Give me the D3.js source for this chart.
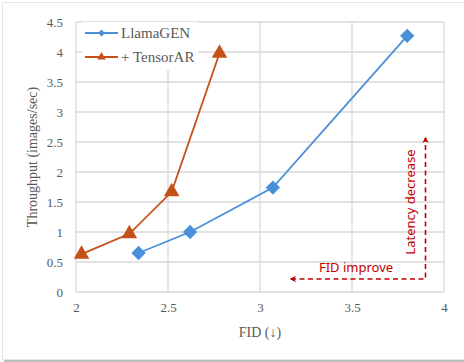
<!DOCTYPE html>
<html>
<head>
<meta charset="utf-8">
<script src="https://cdn.jsdelivr.net/npm/d3@7"></script>
<style>
  body { margin: 0; background: #fff; }
  svg text { font-family: "Liberation Serif", "Times New Roman", serif; fill: #595959; }
  svg text.note { font-family: "Comic Sans MS", "Noto Sans", sans-serif; fill: #c00000; }
</style>
</head>
<body>
<div id="chart"></div>
<script>
// data
const llamaFid = [2.34, 2.62, 3.07, 3.80];
const llamaThroughput = [0.65, 1.0, 1.74, 4.27];
const tensorFid = [2.03, 2.29, 2.52, 2.78];
const tensorThroughput = [0.63, 0.97, 1.67, 3.98];
const xTicks = [2, 2.5, 3, 3.5, 4];
const yTicks = [0, 0.5, 1, 1.5, 2, 2.5, 3, 3.5, 4, 4.5];
const seriesNames = ["LlamaGEN", "+ TensorAR"];

const W = 464, H = 362;
const margin = {top: 22, right: 20, bottom: 70, left: 76};
const width = W - margin.left - margin.right;
const height = H - margin.top - margin.bottom;

const svg = d3.select("#chart").append("svg")
  .attr("width", W)
  .attr("height", H);

// chart frame with soft shadow
svg.append("rect")
  .attr("x", 4).attr("y", 4).attr("width", W - 4).attr("height", H - 4)
  .attr("fill", "#bdbdbd");
svg.append("rect")
  .attr("x", 2.5).attr("y", 2.5).attr("width", W).attr("height", H - 5)
  .attr("fill", "#fff").attr("stroke", "#e6e6e6");

const g = svg.append("g")
  .attr("transform", "translate(" + margin.left + "," + margin.top + ")");

const x = d3.scaleLinear().domain([2, 4]).range([0, width]);
const y = d3.scaleLinear().domain([0, 4.5]).range([height, 0]);

// gridlines
g.append("g")
  .selectAll("line.h")
  .data(yTicks)
  .enter().append("line")
  .attr("x1", 0).attr("x2", width)
  .attr("y1", d => y(d)).attr("y2", d => y(d))
  .attr("stroke", "#d9d9d9").attr("stroke-width", 1.3);
g.append("g")
  .selectAll("line.v")
  .data(xTicks)
  .enter().append("line")
  .attr("y1", 0).attr("y2", height)
  .attr("x1", d => x(d)).attr("x2", d => x(d))
  .attr("stroke", "#d9d9d9").attr("stroke-width", 1.3);

// axes (labels only)
const yAxis = g.append("g")
  .call(d3.axisLeft(y).tickValues(yTicks).tickSize(0).tickPadding(13).tickFormat(d3.format("")))
  .attr("font-family", "Liberation Serif").attr("font-size", 13);
yAxis.select(".domain").remove();
yAxis.selectAll("text").attr("fill", "#595959");

const xAxis = g.append("g")
  .attr("transform", "translate(0," + height + ")")
  .call(d3.axisBottom(x).tickValues(xTicks).tickSize(0).tickPadding(11).tickFormat(d3.format("")))
  .attr("font-family", "Liberation Serif").attr("font-size", 13);
xAxis.select(".domain").remove();
xAxis.selectAll("text").attr("fill", "#595959");

// axis titles
svg.append("text")
  .attr("transform", "translate(37," + (margin.top + height / 2) + ") rotate(-90)")
  .attr("text-anchor", "middle")
  .attr("font-size", 14)
  .text("Throughput (images/sec)");
svg.append("text")
  .attr("x", margin.left + x(3)).attr("y", 337)
  .attr("text-anchor", "middle")
  .attr("font-size", 14)
  .text("FID (↓)");

const blue = "#4a90d9", orange = "#c5511a";
const line = d3.line().x(d => x(d[0])).y(d => y(d[1]));

const llama = llamaFid.map((d, i) => [d, llamaThroughput[i]]);
const tensor = tensorFid.map((d, i) => [d, tensorThroughput[i]]);

g.append("path").datum(llama).attr("d", line)
  .attr("fill", "none").attr("stroke", blue).attr("stroke-width", 1.8);
g.append("path").datum(tensor).attr("d", line)
  .attr("fill", "none").attr("stroke", orange).attr("stroke-width", 1.8);

const diamond = d3.symbol().type(d3.symbolDiamond2).size(130);
const tri = d3.symbol().type(d3.symbolTriangle).size(105);

g.selectAll(".llama").data(llama).enter().append("path")
  .attr("class", "llama")
  .attr("d", diamond)
  .attr("transform", d => "translate(" + x(d[0]) + "," + y(d[1]) + ")")
  .attr("fill", blue);
g.selectAll(".tensor").data(tensor).enter().append("path")
  .attr("class", "tensor")
  .attr("d", tri)
  .attr("transform", d => "translate(" + x(d[0]) + "," + y(d[1]) + ")")
  .attr("fill", orange);

// legend
const legend = svg.append("g").attr("transform", "translate(82,22)");
legend.append("rect").attr("width", 116).attr("height", 48).attr("fill", "#fff");
seriesNames.forEach((name, i) => {
  const ly = 11 + i * 24;
  const c = i === 0 ? blue : orange;
  legend.append("line").attr("x1", 3).attr("x2", 36).attr("y1", ly).attr("y2", ly)
    .attr("stroke", c).attr("stroke-width", 1.8);
  legend.append("path")
    .attr("d", i === 0 ? d3.symbol().type(d3.symbolDiamond2).size(30) : d3.symbol().type(d3.symbolTriangle).size(32))
    .attr("transform", "translate(19.5," + ly + ")")
    .attr("fill", c);
  legend.append("text").attr("x", 39).attr("y", ly + 5)
    .attr("font-size", 15).text(name);
});

// annotation arrows
const red = "#c00000";
const ann = svg.append("g");
ann.append("defs").append("marker")
  .attr("id", "ah").attr("viewBox", "0 0 10 10").attr("refX", 8).attr("refY", 5)
  .attr("markerWidth", 4).attr("markerHeight", 4).attr("orient", "auto-start-reverse")
  .append("path").attr("d", "M0,0 L10,5 L0,10 L3,5 Z").attr("fill", red);
ann.append("path")
  .attr("d", "M291,279 L425.5,279 L425.5,138")
  .attr("fill", "none").attr("stroke", red).attr("stroke-width", 1.6)
  .attr("stroke-dasharray", "5,3.5")
  .attr("marker-start", "url(#ah)").attr("marker-end", "url(#ah)");
ann.append("text").attr("class", "note")
  .attr("x", 356).attr("y", 272).attr("text-anchor", "middle")
  .attr("font-size", 13).text("FID improve");
ann.append("text").attr("class", "note")
  .attr("transform", "translate(415,202) rotate(-90)")
  .attr("text-anchor", "middle")
  .attr("font-size", 13).text("Latency decrease");
</script>
</body>
</html>
